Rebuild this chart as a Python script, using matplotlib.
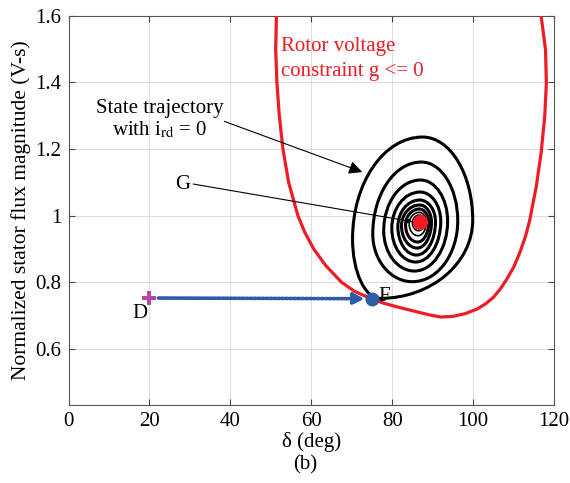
import matplotlib
matplotlib.use('Agg')
import matplotlib.pyplot as plt
from matplotlib.path import Path
from matplotlib.patches import PathPatch

# rotor voltage constraint boundary (delta in deg, flux)
rotor_delta = [51.4, 51.2, 51.5, 52.1, 53.0, 54.4, 56.7, 58.4, 60.6, 63.6, 67.5, 70.7, 75.0,
               78.0, 82.0, 86.0, 89.0, 92.0, 95.0, 98.0, 101.0, 103.0, 105.0, 106.7, 108.2,
               110.0, 111.5, 113.0, 114.0, 115.6, 116.8, 117.7, 118.1, 117.9, 116.8]
rotor_flux = [1.60, 1.50, 1.40, 1.30, 1.20, 1.10, 1.00, 0.95, 0.90, 0.85, 0.80, 0.773, 0.75,
              0.737, 0.724, 0.712, 0.703, 0.696, 0.698, 0.706, 0.720, 0.735, 0.755, 0.78, 0.807,
              0.845, 0.888, 0.94, 0.987, 1.087, 1.188, 1.297, 1.397, 1.497, 1.60]

# state trajectory loops, extreme points of each loop (outer -> inner)
loop_left_d = [70.2, 75.2, 77.9, 79.9, 81.4, 82.3, 83.3, 84.2, 85.0]
loop_left_v = [0.930, 0.945, 0.955, 0.962, 0.967, 0.970, 0.972, 0.975, 0.978]
loop_top_d = [87.5, 87.2, 87.0, 86.9, 86.8, 86.8, 86.7, 86.7, 86.7]
loop_top_v = [1.236, 1.161, 1.107, 1.071, 1.047, 1.032, 1.020, 1.010, 1.002]
loop_right_d = [99.9, 96.2, 93.7, 92.0, 90.7, 89.7, 89.0, 88.4, 88.0]
loop_right_v = [0.987, 0.985, 0.984, 0.983, 0.982, 0.981, 0.980, 0.980, 0.980]
loop_bottom_d = [77.0, 85.0, 85.5, 85.8, 86.0, 86.2, 86.3, 86.4, 86.5]
loop_bottom_v = [0.752, 0.802, 0.834, 0.861, 0.882, 0.903, 0.921, 0.940, 0.955]

D_point = (20.0, 0.753)
F_point = (75.0, 0.751)
G_point = (86.9, 0.982)

K = 0.5523


def egg_path(left, top, right, bottom):
    verts = [left,
             (left[0], left[1] + K * (top[1] - left[1])), (top[0] - K * (top[0] - left[0]), top[1]), top,
             (top[0] + K * (right[0] - top[0]), top[1]), (right[0], right[1] + K * (top[1] - right[1])), right,
             (right[0], right[1] - K * (right[1] - bottom[1])), (bottom[0] + K * (right[0] - bottom[0]), bottom[1]), bottom,
             (bottom[0] - K * (bottom[0] - left[0]), bottom[1]), (left[0], left[1] - K * (left[1] - bottom[1])), left]
    codes = [Path.MOVETO] + [Path.CURVE4] * 12
    return Path(verts, codes)


plt.rcParams['font.family'] = ['Liberation Serif', 'DejaVu Serif']
plt.rcParams['mathtext.fontset'] = 'stix'

fig = plt.figure(figsize=(5.7, 4.83), dpi=100)
ax = fig.add_axes([0.1202, 0.1621, 0.8518, 0.8054])

red = '#ee1c25'
blue = '#2d5ca8'
fs = 15

ax.plot(rotor_delta, rotor_flux, color=red, lw=2.3, zorder=3, solid_joinstyle='round')

for i in range(len(loop_left_d)):
    p = egg_path((loop_left_d[i], loop_left_v[i]), (loop_top_d[i], loop_top_v[i]),
                 (loop_right_d[i], loop_right_v[i]), (loop_bottom_d[i], loop_bottom_v[i]))
    lw = 2.2 if i < 7 else 1.2
    ax.add_patch(PathPatch(p, fill=False, edgecolor='black', lw=lw, zorder=4))

ax.plot(*G_point, 'o', color=red, markersize=10, zorder=6)

# D -> F transition
ax.annotate('', xy=(F_point[0] - 1.8, F_point[1]), xytext=(D_point[0] + 2.2, D_point[1]),
            arrowprops=dict(arrowstyle='-|>', color=blue, lw=2.6, linestyle=(0, (0.6, 0.5)),
                            mutation_scale=16, shrinkA=0, shrinkB=0), zorder=5)
ax.plot(*D_point, 'P', color='#b5489e', markersize=10, markeredgewidth=0, zorder=6)
ax.plot(*F_point, 'o', color=blue, markersize=9, zorder=6)

ax.text(52.6, 1.507, 'Rotor voltage', color=red, fontsize=fs, ha='left', va='center')
ax.text(52.6, 1.432, 'constraint g <= 0', color=red, fontsize=fs, ha='left', va='center')

ax.text(22.6, 1.323, 'State trajectory', fontsize=fs, ha='center', va='center')
ax.text(22.6, 1.257, r'with i$_{\mathrm{rd}}$ = 0', fontsize=fs, ha='center', va='center')
ax.annotate('', xy=(72.6, 1.131), xytext=(38.5, 1.283),
            arrowprops=dict(arrowstyle='-|>', color='black', lw=0.8, mutation_scale=20,
                            shrinkA=0, shrinkB=0), zorder=7)

ax.text(28.3, 1.095, 'G', fontsize=fs, ha='center', va='center')
ax.annotate('', xy=(G_point[0] - 1.9, G_point[1]), xytext=(30.8, 1.095),
            arrowprops=dict(arrowstyle='-|>', color='black', lw=0.8, mutation_scale=7,
                            shrinkA=0, shrinkB=0), zorder=7)

ax.text(17.7, 0.708, 'D', fontsize=fs, ha='center', va='center')
ax.text(77.9, 0.758, 'F', fontsize=fs, ha='center', va='center')

ax.set_xlim(0, 120)
ax.set_ylim(0.433, 1.6)
ax.set_xticks([0, 20, 40, 60, 80, 100, 120])
ax.set_yticks([0.6, 0.8, 1.0, 1.2, 1.4, 1.6])
ax.set_yticklabels(['0.6', '0.8', '1', '1.2', '1.4', '1.6'])
ax.tick_params(direction='in', top=True, right=True, labelsize=fs, length=4, color='#444444', pad=5)
ax.grid(True, color='#dddddd', lw=0.7)
for s in ax.spines.values():
    s.set_color('#555555')
    s.set_linewidth(0.8)

ax.set_xlabel('δ (deg)', fontsize=fs, labelpad=1)
ax.set_ylabel('Normalized stator flux magnitude (V-s)', fontsize=15.5, labelpad=3)
fig.text(0.535, 0.037, '(b)', fontsize=fs, ha='center', va='center')

fig.savefig('out.png', dpi=100)
